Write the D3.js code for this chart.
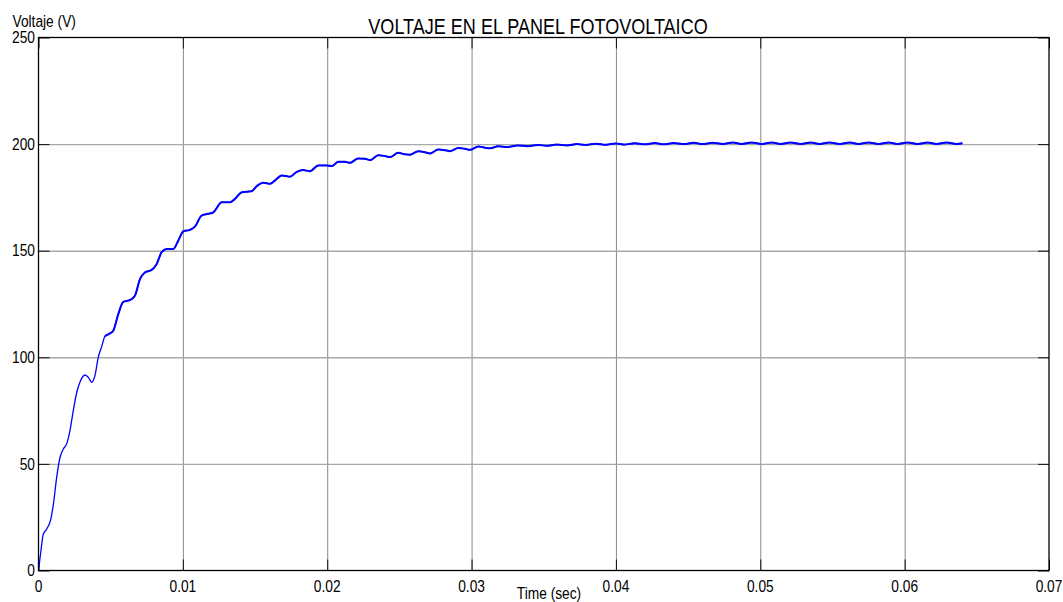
<!DOCTYPE html>
<html>
<head>
<meta charset="utf-8">
<script src="https://cdn.jsdelivr.net/npm/d3@7"></script>
<style>
  html, body { margin: 0; padding: 0; background: #fff; }
  svg { display: block; }
  text { font-family: "Liberation Sans", Arial, sans-serif; fill: #000; }
</style>
</head>
<body>
<svg id="chart" width="1063" height="602"></svg>
<script>
// ---- data ----
const chartTitle = "VOLTAJE EN EL PANEL FOTOVOLTAICO";
const yLabel = "Voltaje (V)";
const xLabel = "Time (sec)";
const xTicks = [0, 0.01, 0.02, 0.03, 0.04, 0.05, 0.06, 0.07];
const xTickLabels = ["0", "0.01", "0.02", "0.03", "0.04", "0.05", "0.06", "0.07"];
const yTicks = [0, 50, 100, 150, 200, 250];
const yTickLabels = ["0", "50", "100", "150", "200", "250"];

const timeSec = [
  0, 0.00017, 0.00033, 0.00057, 0.00085, 0.00103, 0.00126, 0.00149, 0.00172, 0.00195,
  0.00218, 0.00241, 0.00265, 0.00287, 0.00322, 0.00345, 0.00369, 0.00391, 0.00414, 0.00438,
  0.00461, 0.00495, 0.00518, 0.00553, 0.00587, 0.00634, 0.00668, 0.00703, 0.00737, 0.00784,
  0.00819, 0.00853, 0.00888, 0.00934, 0.00968, 0.01003, 0.0105, 0.01084, 0.0113, 0.01176,
  0.01211, 0.01269, 0.01327, 0.01361, 0.01408, 0.01477, 0.01512, 0.01557, 0.01604, 0.01639,
  0.01685, 0.01742, 0.01789, 0.01834, 0.01881, 0.01938, 0.01996, 0.02031, 0.02077, 0.02123,
  0.02158, 0.02215, 0.02262, 0.02296, 0.02354, 0.024, 0.02435, 0.02492, 0.02539, 0.02573,
  0.02631, 0.02677, 0.02712, 0.02769, 0.02828, 0.0285, 0.02908, 0.02954, 0.02989, 0.03047,
  0.03093, 0.03128, 0.03185, 0.0325, 0.0332, 0.0339, 0.0346, 0.0352, 0.0359, 0.0366,
  0.0373, 0.0379, 0.0386, 0.0393, 0.0400, 0.0406, 0.0413, 0.0420, 0.0427, 0.0433,
  0.0440, 0.0447, 0.0454, 0.0460, 0.0467, 0.0474, 0.0481, 0.0487, 0.0494, 0.0501,
  0.0508, 0.0514, 0.0521, 0.0528, 0.0535, 0.0541, 0.0548, 0.0555, 0.0562, 0.0568,
  0.0575, 0.0582, 0.0589, 0.0595, 0.0602, 0.0609, 0.0616, 0.0622, 0.0629, 0.0636,
  0.0640
];
const voltage = [
  0, 9.4, 17, 19.5, 24, 31, 43.7, 53, 57, 59.4,
  65.6, 75, 83.6, 88.3, 91.7, 90.6, 88.3, 91.4, 100, 105,
  110, 111.2, 112.5, 120.3, 126, 126.9, 128.9, 136.7, 139.8, 141,
  143.8, 149.3, 150.8, 150.8, 154.7, 159.1, 159.8, 161.3, 166.5, 167.3,
  168, 172.7, 172.7, 174.3, 177.4, 177.9, 180.3, 181.9, 181.4, 183,
  185.3, 184.7, 187, 187.8, 187.3, 190, 190, 189.7, 191.7, 191.7,
  191.2, 193.3, 193.1, 192.5, 194.8, 194.4, 193.9, 195.9, 195.2, 195,
  196.7, 196.2, 195.6, 197.5, 197, 196.7, 198.2, 197.8, 197.3, 198.9,
  198.3, 198, 199, 198.6, 199.4, 199.0, 199.6, 199.2, 199.8, 199.4,
  200.0, 199.6, 200.2, 199.7, 200.3, 199.8, 200.4, 199.9, 200.5, 199.9,
  200.5, 200.0, 200.6, 200.0, 200.6, 200.1, 200.7, 200.1, 200.7, 200.1,
  200.7, 200.1, 200.7, 200.1, 200.7, 200.1, 200.7, 200.1, 200.7, 200.1,
  200.7, 200.1, 200.7, 200.1, 200.7, 200.1, 200.7, 200.1, 200.7, 200.1,
  200.4
];

// ---- drawing ----
(function () {
  const svg = d3.select("#chart");
  const pL = 38.5, pR = 1049, pT = 37.5, pB = 570.5;
  const x = d3.scaleLinear().domain([0, 0.07]).range([pL, pR]);
  const y = d3.scaleLinear().domain([0, 250]).range([pB, pT]);

  // grid
  const gridV = svg.append("g").attr("transform", `translate(0,${pB})`)
    .call(d3.axisBottom(x).tickValues(xTicks.slice(1, -1)).tickSize(-(pB - pT)).tickFormat(""));
  gridV.select(".domain").remove();
  gridV.selectAll("line").attr("stroke", "#7a7a7a").attr("stroke-width", 0.9);

  const gridH = svg.append("g").attr("transform", `translate(${pL},0)`)
    .call(d3.axisLeft(y).tickValues(yTicks.slice(1, -1)).tickSize(-(pR - pL)).tickFormat(""));
  gridH.select(".domain").remove();
  gridH.selectAll("line").attr("stroke", "#a8a8a8").attr("stroke-width", 1.4);

  // inward ticks on all four sides
  const tk = 11;
  function styleTicks(g) {
    g.select(".domain").remove();
    g.selectAll("line").attr("stroke", "#111").attr("stroke-width", 1);
  }
  svg.append("g").attr("transform", `translate(0,${pB})`)
    .call(d3.axisBottom(x).tickValues(xTicks).tickSize(-tk).tickFormat("")).call(styleTicks);
  svg.append("g").attr("transform", `translate(0,${pT})`)
    .call(d3.axisTop(x).tickValues(xTicks).tickSize(-tk).tickFormat("")).call(styleTicks);
  svg.append("g").attr("transform", `translate(${pL},0)`)
    .call(d3.axisLeft(y).tickValues(yTicks).tickSize(-tk).tickFormat("")).call(styleTicks);
  svg.append("g").attr("transform", `translate(${pR},0)`)
    .call(d3.axisRight(y).tickValues(yTicks).tickSize(-tk).tickFormat("")).call(styleTicks);

  // curve (thin at start, thicker/noisier band later, as in the reference)
  const pts = timeSec.map((t, i) => [t, voltage[i]]);
  const line = d3.line().x(d => x(d[0])).y(d => y(d[1])).curve(d3.curveMonotoneX);
  svg.append("path")
    .datum(pts)
    .attr("fill", "none")
    .attr("stroke", "#0000ff")
    .attr("stroke-width", 1.3)
    .attr("stroke-linejoin", "round")
    .attr("d", line);
  svg.append("path")
    .datum(pts.filter(d => d[0] >= 0.0045))
    .attr("fill", "none")
    .attr("stroke", "#0000ff")
    .attr("stroke-width", 2)
    .attr("stroke-linejoin", "round")
    .attr("d", line);

  // frame
  svg.append("rect")
    .attr("x", pL).attr("y", pT)
    .attr("width", pR - pL).attr("height", pB - pT)
    .attr("fill", "none").attr("stroke", "#000").attr("stroke-width", 1.3);

  // labels (glyphs in the reference are horizontally condensed)
  function label(px, py, str, size, anchor, sx) {
    svg.append("g").attr("transform", `translate(${px},${py}) scale(${sx},1)`)
      .append("text").attr("x", 0).attr("y", 0)
      .attr("font-size", size).attr("text-anchor", anchor).text(str);
  }
  xTicks.forEach((v, i) => label(x(v), 591.5, xTickLabels[i], 16, "middle", 0.86));
  yTicks.forEach((v, i) => label(35, y(v) + 5.6, yTickLabels[i], 16, "end", 0.86));
  label(538, 34, chartTitle, 22, "middle", 0.82);
  label(12.5, 27, yLabel, 16, "start", 0.86);
  label(549, 599, xLabel, 16, "middle", 0.86);
})();
</script>
</body>
</html>
